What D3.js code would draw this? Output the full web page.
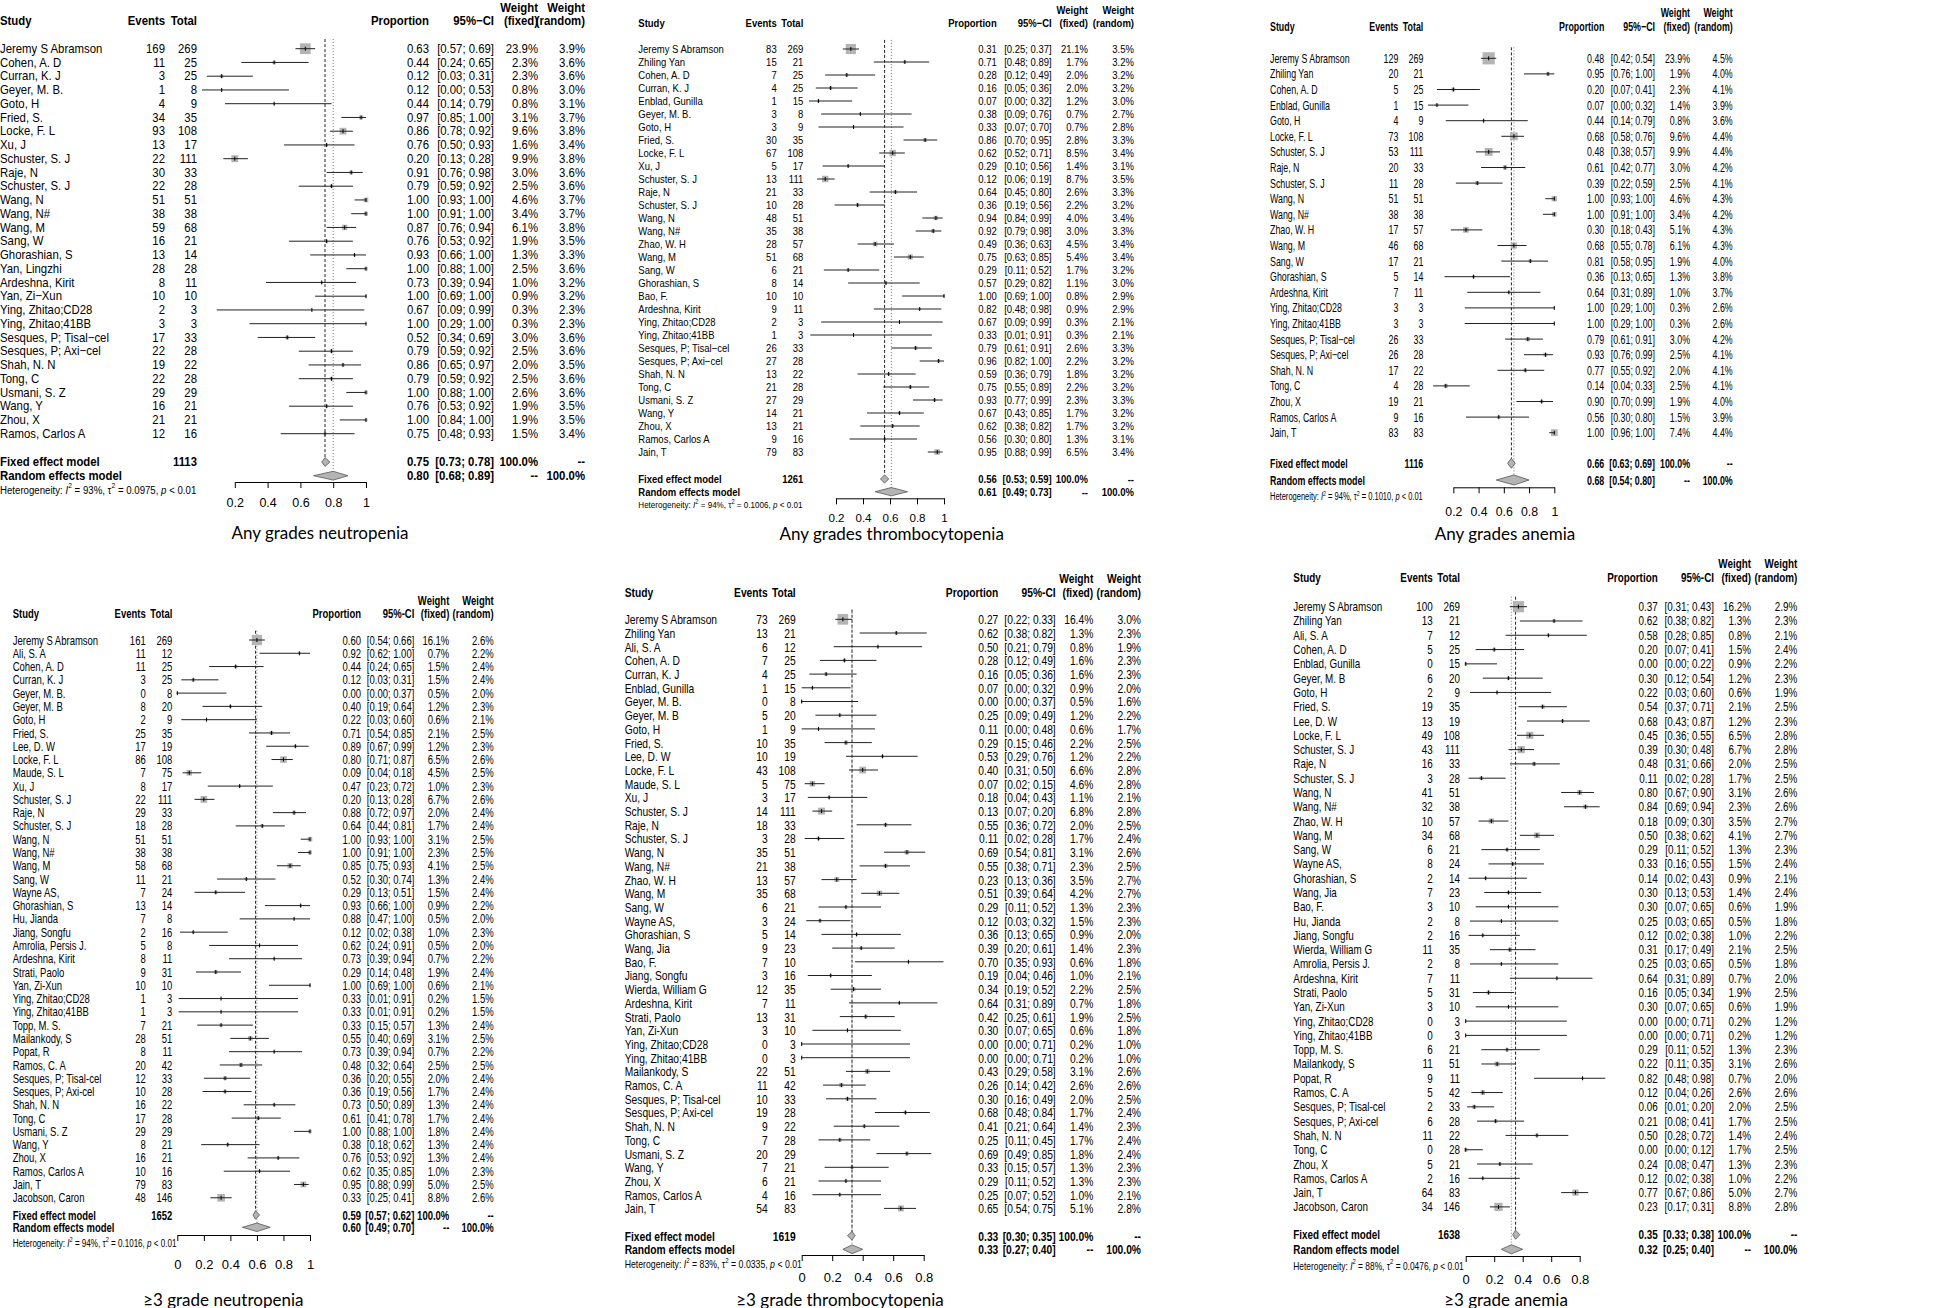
<!DOCTYPE html>
<html>
<head>
<meta charset="utf-8">
<script src="https://cdn.jsdelivr.net/npm/d3@7"></script>
<style>
  body { margin: 0; background: #fff; }
  svg { display: block; }
</style>
</head>
<body>
<div id="chart"></div>
<script>
// each row: study, events, total, proportion, lower, upper, weight fixed %, weight random %
const anyNeutropenia = [
  ["Jeremy S Abramson", 169, 269, 0.63, 0.57, 0.69, 23.9, 3.9],
  ["Cohen, A. D", 11, 25, 0.44, 0.24, 0.65, 2.3, 3.6],
  ["Curran, K. J", 3, 25, 0.12, 0.03, 0.31, 2.3, 3.6],
  ["Geyer, M. B.", 1, 8, 0.12, 0.00, 0.53, 0.8, 3.0],
  ["Goto, H", 4, 9, 0.44, 0.14, 0.79, 0.8, 3.1],
  ["Fried, S.", 34, 35, 0.97, 0.85, 1.00, 3.1, 3.7],
  ["Locke, F. L", 93, 108, 0.86, 0.78, 0.92, 9.6, 3.8],
  ["Xu, J", 13, 17, 0.76, 0.50, 0.93, 1.6, 3.4],
  ["Schuster, S. J", 22, 111, 0.20, 0.13, 0.28, 9.9, 3.8],
  ["Raje, N", 30, 33, 0.91, 0.76, 0.98, 3.0, 3.6],
  ["Schuster, S. J", 22, 28, 0.79, 0.59, 0.92, 2.5, 3.6],
  ["Wang, N", 51, 51, 1.00, 0.93, 1.00, 4.6, 3.7],
  ["Wang, N#", 38, 38, 1.00, 0.91, 1.00, 3.4, 3.7],
  ["Wang, M", 59, 68, 0.87, 0.76, 0.94, 6.1, 3.8],
  ["Sang, W", 16, 21, 0.76, 0.53, 0.92, 1.9, 3.5],
  ["Ghorashian, S", 13, 14, 0.93, 0.66, 1.00, 1.3, 3.3],
  ["Yan, Lingzhi", 28, 28, 1.00, 0.88, 1.00, 2.5, 3.6],
  ["Ardeshna, Kirit", 8, 11, 0.73, 0.39, 0.94, 1.0, 3.2],
  ["Yan, Zi\u2212Xun", 10, 10, 1.00, 0.69, 1.00, 0.9, 3.2],
  ["Ying, Zhitao;CD28", 2, 3, 0.67, 0.09, 0.99, 0.3, 2.3],
  ["Ying, Zhitao;41BB", 3, 3, 1.00, 0.29, 1.00, 0.3, 2.3],
  ["Sesques, P; Tisal\u2212cel", 17, 33, 0.52, 0.34, 0.69, 3.0, 3.6],
  ["Sesques, P; Axi\u2212cel", 22, 28, 0.79, 0.59, 0.92, 2.5, 3.6],
  ["Shah, N. N", 19, 22, 0.86, 0.65, 0.97, 2.0, 3.5],
  ["Tong, C", 22, 28, 0.79, 0.59, 0.92, 2.5, 3.6],
  ["Usmani, S. Z", 29, 29, 1.00, 0.88, 1.00, 2.6, 3.6],
  ["Wang, Y", 16, 21, 0.76, 0.53, 0.92, 1.9, 3.5],
  ["Zhou, X", 21, 21, 1.00, 0.84, 1.00, 1.9, 3.5],
  ["Ramos, Carlos A", 12, 16, 0.75, 0.48, 0.93, 1.5, 3.4]
];
const anyNeutropeniaPooled = { total: 1113, fixed: [0.75, 0.73, 0.78], random: [0.80, 0.68, 0.89], i2: "93%", tau2: "0.0975" };

const anyThrombocytopenia = [
  ["Jeremy S Abramson", 83, 269, 0.31, 0.25, 0.37, 21.1, 3.5],
  ["Zhiling Yan", 15, 21, 0.71, 0.48, 0.89, 1.7, 3.2],
  ["Cohen, A. D", 7, 25, 0.28, 0.12, 0.49, 2.0, 3.2],
  ["Curran, K. J", 4, 25, 0.16, 0.05, 0.36, 2.0, 3.2],
  ["Enblad, Gunilla", 1, 15, 0.07, 0.00, 0.32, 1.2, 3.0],
  ["Geyer, M. B.", 3, 8, 0.38, 0.09, 0.76, 0.7, 2.7],
  ["Goto, H", 3, 9, 0.33, 0.07, 0.70, 0.7, 2.8],
  ["Fried, S.", 30, 35, 0.86, 0.70, 0.95, 2.8, 3.3],
  ["Locke, F. L", 67, 108, 0.62, 0.52, 0.71, 8.5, 3.4],
  ["Xu, J", 5, 17, 0.29, 0.10, 0.56, 1.4, 3.1],
  ["Schuster, S. J", 13, 111, 0.12, 0.06, 0.19, 8.7, 3.5],
  ["Raje, N", 21, 33, 0.64, 0.45, 0.80, 2.6, 3.3],
  ["Schuster, S. J", 10, 28, 0.36, 0.19, 0.56, 2.2, 3.2],
  ["Wang, N", 48, 51, 0.94, 0.84, 0.99, 4.0, 3.4],
  ["Wang, N#", 35, 38, 0.92, 0.79, 0.98, 3.0, 3.3],
  ["Zhao, W. H", 28, 57, 0.49, 0.36, 0.63, 4.5, 3.4],
  ["Wang, M", 51, 68, 0.75, 0.63, 0.85, 5.4, 3.4],
  ["Sang, W", 6, 21, 0.29, 0.11, 0.52, 1.7, 3.2],
  ["Ghorashian, S", 8, 14, 0.57, 0.29, 0.82, 1.1, 3.0],
  ["Bao, F.", 10, 10, 1.00, 0.69, 1.00, 0.8, 2.9],
  ["Ardeshna, Kirit", 9, 11, 0.82, 0.48, 0.98, 0.9, 2.9],
  ["Ying, Zhitao;CD28", 2, 3, 0.67, 0.09, 0.99, 0.3, 2.1],
  ["Ying, Zhitao;41BB", 1, 3, 0.33, 0.01, 0.91, 0.3, 2.1],
  ["Sesques, P; Tisal\u2212cel", 26, 33, 0.79, 0.61, 0.91, 2.6, 3.3],
  ["Sesques, P; Axi\u2212cel", 27, 28, 0.96, 0.82, 1.00, 2.2, 3.2],
  ["Shah, N. N", 13, 22, 0.59, 0.36, 0.79, 1.8, 3.2],
  ["Tong, C", 21, 28, 0.75, 0.55, 0.89, 2.2, 3.2],
  ["Usmani, S. Z", 27, 29, 0.93, 0.77, 0.99, 2.3, 3.3],
  ["Wang, Y", 14, 21, 0.67, 0.43, 0.85, 1.7, 3.2],
  ["Zhou, X", 13, 21, 0.62, 0.38, 0.82, 1.7, 3.2],
  ["Ramos, Carlos A", 9, 16, 0.56, 0.30, 0.80, 1.3, 3.1],
  ["Jain, T", 79, 83, 0.95, 0.88, 0.99, 6.5, 3.4]
];
const anyThrombocytopeniaPooled = { total: 1261, fixed: [0.56, 0.53, 0.59], random: [0.61, 0.49, 0.73], i2: "94%", tau2: "0.1006" };

const anyAnemia = [
  ["Jeremy S Abramson", 129, 269, 0.48, 0.42, 0.54, 23.9, 4.5],
  ["Zhiling Yan", 20, 21, 0.95, 0.76, 1.00, 1.9, 4.0],
  ["Cohen, A. D", 5, 25, 0.20, 0.07, 0.41, 2.3, 4.1],
  ["Enblad, Gunilla", 1, 15, 0.07, 0.00, 0.32, 1.4, 3.9],
  ["Goto, H", 4, 9, 0.44, 0.14, 0.79, 0.8, 3.6],
  ["Locke, F. L", 73, 108, 0.68, 0.58, 0.76, 9.6, 4.4],
  ["Schuster, S. J", 53, 111, 0.48, 0.38, 0.57, 9.9, 4.4],
  ["Raje, N", 20, 33, 0.61, 0.42, 0.77, 3.0, 4.2],
  ["Schuster, S. J", 11, 28, 0.39, 0.22, 0.59, 2.5, 4.1],
  ["Wang, N", 51, 51, 1.00, 0.93, 1.00, 4.6, 4.3],
  ["Wang, N#", 38, 38, 1.00, 0.91, 1.00, 3.4, 4.2],
  ["Zhao, W. H", 17, 57, 0.30, 0.18, 0.43, 5.1, 4.3],
  ["Wang, M", 46, 68, 0.68, 0.55, 0.78, 6.1, 4.3],
  ["Sang, W", 17, 21, 0.81, 0.58, 0.95, 1.9, 4.0],
  ["Ghorashian, S", 5, 14, 0.36, 0.13, 0.65, 1.3, 3.8],
  ["Ardeshna, Kirit", 7, 11, 0.64, 0.31, 0.89, 1.0, 3.7],
  ["Ying, Zhitao;CD28", 3, 3, 1.00, 0.29, 1.00, 0.3, 2.6],
  ["Ying, Zhitao;41BB", 3, 3, 1.00, 0.29, 1.00, 0.3, 2.6],
  ["Sesques, P; Tisal\u2212cel", 26, 33, 0.79, 0.61, 0.91, 3.0, 4.2],
  ["Sesques, P; Axi\u2212cel", 26, 28, 0.93, 0.76, 0.99, 2.5, 4.1],
  ["Shah, N. N", 17, 22, 0.77, 0.55, 0.92, 2.0, 4.1],
  ["Tong, C", 4, 28, 0.14, 0.04, 0.33, 2.5, 4.1],
  ["Zhou, X", 19, 21, 0.90, 0.70, 0.99, 1.9, 4.0],
  ["Ramos, Carlos A", 9, 16, 0.56, 0.30, 0.80, 1.5, 3.9],
  ["Jain, T", 83, 83, 1.00, 0.96, 1.00, 7.4, 4.4]
];
const anyAnemiaPooled = { total: 1116, fixed: [0.66, 0.63, 0.69], random: [0.68, 0.54, 0.80], i2: "94%", tau2: "0.1010" };

const g3Neutropenia = [
  ["Jeremy S Abramson", 161, 269, 0.60, 0.54, 0.66, 16.1, 2.6],
  ["Ali, S. A", 11, 12, 0.92, 0.62, 1.00, 0.7, 2.2],
  ["Cohen, A. D", 11, 25, 0.44, 0.24, 0.65, 1.5, 2.4],
  ["Curran, K. J", 3, 25, 0.12, 0.03, 0.31, 1.5, 2.4],
  ["Geyer, M. B.", 0, 8, 0.00, 0.00, 0.37, 0.5, 2.0],
  ["Geyer, M. B", 8, 20, 0.40, 0.19, 0.64, 1.2, 2.3],
  ["Goto, H", 2, 9, 0.22, 0.03, 0.60, 0.6, 2.1],
  ["Fried, S.", 25, 35, 0.71, 0.54, 0.85, 2.1, 2.5],
  ["Lee, D. W", 17, 19, 0.89, 0.67, 0.99, 1.2, 2.3],
  ["Locke, F. L", 86, 108, 0.80, 0.71, 0.87, 6.5, 2.6],
  ["Maude, S. L", 7, 75, 0.09, 0.04, 0.18, 4.5, 2.5],
  ["Xu, J", 8, 17, 0.47, 0.23, 0.72, 1.0, 2.3],
  ["Schuster, S. J", 22, 111, 0.20, 0.13, 0.28, 6.7, 2.6],
  ["Raje, N", 29, 33, 0.88, 0.72, 0.97, 2.0, 2.4],
  ["Schuster, S. J", 18, 28, 0.64, 0.44, 0.81, 1.7, 2.4],
  ["Wang, N", 51, 51, 1.00, 0.93, 1.00, 3.1, 2.5],
  ["Wang, N#", 38, 38, 1.00, 0.91, 1.00, 2.3, 2.5],
  ["Wang, M", 58, 68, 0.85, 0.75, 0.93, 4.1, 2.5],
  ["Sang, W", 11, 21, 0.52, 0.30, 0.74, 1.3, 2.4],
  ["Wayne AS,", 7, 24, 0.29, 0.13, 0.51, 1.5, 2.4],
  ["Ghorashian, S", 13, 14, 0.93, 0.66, 1.00, 0.9, 2.2],
  ["Hu, Jianda", 7, 8, 0.88, 0.47, 1.00, 0.5, 2.0],
  ["Jiang, Songfu", 2, 16, 0.12, 0.02, 0.38, 1.0, 2.3],
  ["Amrolia, Persis J.", 5, 8, 0.62, 0.24, 0.91, 0.5, 2.0],
  ["Ardeshna, Kirit", 8, 11, 0.73, 0.39, 0.94, 0.7, 2.2],
  ["Strati, Paolo", 9, 31, 0.29, 0.14, 0.48, 1.9, 2.4],
  ["Yan, Zi-Xun", 10, 10, 1.00, 0.69, 1.00, 0.6, 2.1],
  ["Ying, Zhitao;CD28", 1, 3, 0.33, 0.01, 0.91, 0.2, 1.5],
  ["Ying, Zhitao;41BB", 1, 3, 0.33, 0.01, 0.91, 0.2, 1.5],
  ["Topp, M. S.", 7, 21, 0.33, 0.15, 0.57, 1.3, 2.4],
  ["Mailankody, S", 28, 51, 0.55, 0.40, 0.69, 3.1, 2.5],
  ["Popat, R", 8, 11, 0.73, 0.39, 0.94, 0.7, 2.2],
  ["Ramos, C. A", 20, 42, 0.48, 0.32, 0.64, 2.5, 2.5],
  ["Sesques, P; Tisal-cel", 12, 33, 0.36, 0.20, 0.55, 2.0, 2.4],
  ["Sesques, P; Axi-cel", 10, 28, 0.36, 0.19, 0.56, 1.7, 2.4],
  ["Shah, N. N", 16, 22, 0.73, 0.50, 0.89, 1.3, 2.4],
  ["Tong, C", 17, 28, 0.61, 0.41, 0.78, 1.7, 2.4],
  ["Usmani, S. Z", 29, 29, 1.00, 0.88, 1.00, 1.8, 2.4],
  ["Wang, Y", 8, 21, 0.38, 0.18, 0.62, 1.3, 2.4],
  ["Zhou, X", 16, 21, 0.76, 0.53, 0.92, 1.3, 2.4],
  ["Ramos, Carlos A", 10, 16, 0.62, 0.35, 0.85, 1.0, 2.3],
  ["Jain, T", 79, 83, 0.95, 0.88, 0.99, 5.0, 2.5],
  ["Jacobson, Caron", 48, 146, 0.33, 0.25, 0.41, 8.8, 2.6]
];
const g3NeutropeniaPooled = { total: 1652, fixed: [0.59, 0.57, 0.62], random: [0.60, 0.49, 0.70], i2: "94%", tau2: "0.1016" };

const g3Thrombocytopenia = [
  ["Jeremy S Abramson", 73, 269, 0.27, 0.22, 0.33, 16.4, 3.0],
  ["Zhiling Yan", 13, 21, 0.62, 0.38, 0.82, 1.3, 2.3],
  ["Ali, S. A", 6, 12, 0.50, 0.21, 0.79, 0.8, 1.9],
  ["Cohen, A. D", 7, 25, 0.28, 0.12, 0.49, 1.6, 2.3],
  ["Curran, K. J", 4, 25, 0.16, 0.05, 0.36, 1.6, 2.3],
  ["Enblad, Gunilla", 1, 15, 0.07, 0.00, 0.32, 0.9, 2.0],
  ["Geyer, M. B.", 0, 8, 0.00, 0.00, 0.37, 0.5, 1.6],
  ["Geyer, M. B", 5, 20, 0.25, 0.09, 0.49, 1.2, 2.2],
  ["Goto, H", 1, 9, 0.11, 0.00, 0.48, 0.6, 1.7],
  ["Fried, S.", 10, 35, 0.29, 0.15, 0.46, 2.2, 2.5],
  ["Lee, D. W", 10, 19, 0.53, 0.29, 0.76, 1.2, 2.2],
  ["Locke, F. L", 43, 108, 0.40, 0.31, 0.50, 6.6, 2.8],
  ["Maude, S. L", 5, 75, 0.07, 0.02, 0.15, 4.6, 2.8],
  ["Xu, J", 3, 17, 0.18, 0.04, 0.43, 1.1, 2.1],
  ["Schuster, S. J", 14, 111, 0.13, 0.07, 0.20, 6.8, 2.8],
  ["Raje, N", 18, 33, 0.55, 0.36, 0.72, 2.0, 2.5],
  ["Schuster, S. J", 3, 28, 0.11, 0.02, 0.28, 1.7, 2.4],
  ["Wang, N", 35, 51, 0.69, 0.54, 0.81, 3.1, 2.6],
  ["Wang, N#", 21, 38, 0.55, 0.38, 0.71, 2.3, 2.5],
  ["Zhao, W. H", 13, 57, 0.23, 0.13, 0.36, 3.5, 2.7],
  ["Wang, M", 35, 68, 0.51, 0.39, 0.64, 4.2, 2.7],
  ["Sang, W", 6, 21, 0.29, 0.11, 0.52, 1.3, 2.3],
  ["Wayne AS,", 3, 24, 0.12, 0.03, 0.32, 1.5, 2.3],
  ["Ghorashian, S", 5, 14, 0.36, 0.13, 0.65, 0.9, 2.0],
  ["Wang, Jia", 9, 23, 0.39, 0.20, 0.61, 1.4, 2.3],
  ["Bao, F.", 7, 10, 0.70, 0.35, 0.93, 0.6, 1.8],
  ["Jiang, Songfu", 3, 16, 0.19, 0.04, 0.46, 1.0, 2.1],
  ["Wierda, William G", 12, 35, 0.34, 0.19, 0.52, 2.2, 2.5],
  ["Ardeshna, Kirit", 7, 11, 0.64, 0.31, 0.89, 0.7, 1.8],
  ["Strati, Paolo", 13, 31, 0.42, 0.25, 0.61, 1.9, 2.5],
  ["Yan, Zi-Xun", 3, 10, 0.30, 0.07, 0.65, 0.6, 1.8],
  ["Ying, Zhitao;CD28", 0, 3, 0.00, 0.00, 0.71, 0.2, 1.0],
  ["Ying, Zhitao;41BB", 0, 3, 0.00, 0.00, 0.71, 0.2, 1.0],
  ["Mailankody, S", 22, 51, 0.43, 0.29, 0.58, 3.1, 2.6],
  ["Ramos, C. A", 11, 42, 0.26, 0.14, 0.42, 2.6, 2.6],
  ["Sesques, P; Tisal-cel", 10, 33, 0.30, 0.16, 0.49, 2.0, 2.5],
  ["Sesques, P; Axi-cel", 19, 28, 0.68, 0.48, 0.84, 1.7, 2.4],
  ["Shah, N. N", 9, 22, 0.41, 0.21, 0.64, 1.4, 2.3],
  ["Tong, C", 7, 28, 0.25, 0.11, 0.45, 1.7, 2.4],
  ["Usmani, S. Z", 20, 29, 0.69, 0.49, 0.85, 1.8, 2.4],
  ["Wang, Y", 7, 21, 0.33, 0.15, 0.57, 1.3, 2.3],
  ["Zhou, X", 6, 21, 0.29, 0.11, 0.52, 1.3, 2.3],
  ["Ramos, Carlos A", 4, 16, 0.25, 0.07, 0.52, 1.0, 2.1],
  ["Jain, T", 54, 83, 0.65, 0.54, 0.75, 5.1, 2.8]
];
const g3ThrombocytopeniaPooled = { total: 1619, fixed: [0.33, 0.30, 0.35], random: [0.33, 0.27, 0.40], i2: "83%", tau2: "0.0335" };

const g3Anemia = [
  ["Jeremy S Abramson", 100, 269, 0.37, 0.31, 0.43, 16.2, 2.9],
  ["Zhiling Yan", 13, 21, 0.62, 0.38, 0.82, 1.3, 2.3],
  ["Ali, S. A", 7, 12, 0.58, 0.28, 0.85, 0.8, 2.1],
  ["Cohen, A. D", 5, 25, 0.20, 0.07, 0.41, 1.5, 2.4],
  ["Enblad, Gunilla", 0, 15, 0.00, 0.00, 0.22, 0.9, 2.2],
  ["Geyer, M. B", 6, 20, 0.30, 0.12, 0.54, 1.2, 2.3],
  ["Goto, H", 2, 9, 0.22, 0.03, 0.60, 0.6, 1.9],
  ["Fried, S.", 19, 35, 0.54, 0.37, 0.71, 2.1, 2.5],
  ["Lee, D. W", 13, 19, 0.68, 0.43, 0.87, 1.2, 2.3],
  ["Locke, F. L", 49, 108, 0.45, 0.36, 0.55, 6.5, 2.8],
  ["Schuster, S. J", 43, 111, 0.39, 0.30, 0.48, 6.7, 2.8],
  ["Raje, N", 16, 33, 0.48, 0.31, 0.66, 2.0, 2.5],
  ["Schuster, S. J", 3, 28, 0.11, 0.02, 0.28, 1.7, 2.5],
  ["Wang, N", 41, 51, 0.80, 0.67, 0.90, 3.1, 2.6],
  ["Wang, N#", 32, 38, 0.84, 0.69, 0.94, 2.3, 2.6],
  ["Zhao, W. H", 10, 57, 0.18, 0.09, 0.30, 3.5, 2.7],
  ["Wang, M", 34, 68, 0.50, 0.38, 0.62, 4.1, 2.7],
  ["Sang, W", 6, 21, 0.29, 0.11, 0.52, 1.3, 2.3],
  ["Wayne AS,", 8, 24, 0.33, 0.16, 0.55, 1.5, 2.4],
  ["Ghorashian, S", 2, 14, 0.14, 0.02, 0.43, 0.9, 2.1],
  ["Wang, Jia", 7, 23, 0.30, 0.13, 0.53, 1.4, 2.4],
  ["Bao, F.", 3, 10, 0.30, 0.07, 0.65, 0.6, 1.9],
  ["Hu, Jianda", 2, 8, 0.25, 0.03, 0.65, 0.5, 1.8],
  ["Jiang, Songfu", 2, 16, 0.12, 0.02, 0.38, 1.0, 2.2],
  ["Wierda, William G", 11, 35, 0.31, 0.17, 0.49, 2.1, 2.5],
  ["Amrolia, Persis J.", 2, 8, 0.25, 0.03, 0.65, 0.5, 1.8],
  ["Ardeshna, Kirit", 7, 11, 0.64, 0.31, 0.89, 0.7, 2.0],
  ["Strati, Paolo", 5, 31, 0.16, 0.05, 0.34, 1.9, 2.5],
  ["Yan, Zi-Xun", 3, 10, 0.30, 0.07, 0.65, 0.6, 1.9],
  ["Ying, Zhitao;CD28", 0, 3, 0.00, 0.00, 0.71, 0.2, 1.2],
  ["Ying, Zhitao;41BB", 0, 3, 0.00, 0.00, 0.71, 0.2, 1.2],
  ["Topp, M. S.", 6, 21, 0.29, 0.11, 0.52, 1.3, 2.3],
  ["Mailankody, S", 11, 51, 0.22, 0.11, 0.35, 3.1, 2.6],
  ["Popat, R", 9, 11, 0.82, 0.48, 0.98, 0.7, 2.0],
  ["Ramos, C. A", 5, 42, 0.12, 0.04, 0.26, 2.6, 2.6],
  ["Sesques, P; Tisal-cel", 2, 33, 0.06, 0.01, 0.20, 2.0, 2.5],
  ["Sesques, P; Axi-cel", 6, 28, 0.21, 0.08, 0.41, 1.7, 2.5],
  ["Shah, N. N", 11, 22, 0.50, 0.28, 0.72, 1.4, 2.4],
  ["Tong, C", 0, 28, 0.00, 0.00, 0.12, 1.7, 2.5],
  ["Zhou, X", 5, 21, 0.24, 0.08, 0.47, 1.3, 2.3],
  ["Ramos, Carlos A", 2, 16, 0.12, 0.02, 0.38, 1.0, 2.2],
  ["Jain, T", 64, 83, 0.77, 0.67, 0.86, 5.0, 2.7],
  ["Jacobson, Caron", 34, 146, 0.23, 0.17, 0.31, 8.8, 2.8]
];
const g3AnemiaPooled = { total: 1638, fixed: [0.35, 0.33, 0.38], random: [0.32, 0.25, 0.40], i2: "88%", tau2: "0.0476" };

const ticksTop = [0.2, 0.4, 0.6, 0.8, 1];
const ticksFull = [0, 0.2, 0.4, 0.6, 0.8, 1];
const ticksShort = [0, 0.2, 0.4, 0.6, 0.8];

// layout for each forest plot (pixel positions)
const panels = [
  { rows: anyNeutropenia, pooled: anyNeutropeniaPooled, title: "Any grades neutropenia", ticks: ticksTop, minus: "\u2212",
    fs: 12.5, sx: 0.91, studyX: 0, eventsX: 165, totalX: 197, propX: 429, ciX: 494, wfX: 538, wrX: 585,
    weightY: 8, headY: 21, firstY: 48.7, rowH: 13.75, fixedY: 462, randomY: 475.7, hetY: 490,
    axisY: 482, tickLabelY: 503, x0: 202, x1: 366, titleX: 320, titleY: 532 },
  { rows: anyThrombocytopenia, pooled: anyThrombocytopeniaPooled, title: "Any grades thrombocytopenia", ticks: ticksTop, minus: "\u2212",
    fs: 11.6, sx: 0.82, studyX: 638.3, eventsX: 776.7, totalX: 803.3, propX: 996.7, ciX: 1051.7, wfX: 1088, wrX: 1134,
    weightY: 10, headY: 23, firstY: 49, rowH: 13.0, fixedY: 479, randomY: 491.7, hetY: 505,
    axisY: 498.3, tickLabelY: 518, x0: 809, x1: 944, titleX: 891.7, titleY: 533 },
  { rows: anyAnemia, pooled: anyAnemiaPooled, title: "Any grades anemia", ticks: ticksTop, minus: "\u2212",
    fs: 12.3, sx: 0.72, studyX: 1270, eventsX: 1398.3, totalX: 1423.3, propX: 1604.3, ciX: 1655, wfX: 1690, wrX: 1732.7,
    weightY: 12.3, headY: 26.7, firstY: 58.3, rowH: 15.6, fixedY: 463.3, randomY: 480, hetY: 496.7,
    axisY: 487.3, tickLabelY: 511.7, x0: 1428.1, x1: 1554.3, titleX: 1505, titleY: 533 },
  { rows: g3Neutropenia, pooled: g3NeutropeniaPooled, title: "\u22653 grade neutropenia", ticks: ticksFull, minus: "-",
    fs: 13, sx: 0.73, studyX: 12.7, eventsX: 145.7, totalX: 172.3, propX: 361, ciX: 414.3, wfX: 449.3, wrX: 493.7,
    weightY: 600.3, headY: 613.7, firstY: 640, rowH: 13.28, fixedY: 1215, randomY: 1227.3, hetY: 1242.7,
    axisY: 1235, tickLabelY: 1264, x0: 177.3, x1: 310, titleX: 223.3, titleY: 1299 },
  { rows: g3Thrombocytopenia, pooled: g3ThrombocytopeniaPooled, title: "\u22653 grade thrombocytopenia", ticks: ticksShort, minus: "-",
    fs: 13, sx: 0.79, studyX: 624.7, eventsX: 767.7, totalX: 795.7, propX: 998.3, ciX: 1055.7, wfX: 1093.3, wrX: 1141,
    weightY: 577.7, headY: 592, firstY: 619.3, rowH: 13.7, fixedY: 1235.7, randomY: 1249.3, hetY: 1264,
    axisY: 1255, tickLabelY: 1277.7, x0: 801.7, x1: 954.2, titleX: 840, titleY: 1299 },
  { rows: g3Anemia, pooled: g3AnemiaPooled, title: "\u22653 grade anemia", ticks: ticksShort, minus: "-",
    fs: 13, sx: 0.76, studyX: 1293.3, eventsX: 1432.7, totalX: 1460, propX: 1657.7, ciX: 1714, wfX: 1751, wrX: 1797.3,
    weightY: 563, headY: 577.7, firstY: 606.7, rowH: 14.29, fixedY: 1234.7, randomY: 1249.3, hetY: 1265,
    axisY: 1256, tickLabelY: 1279, x0: 1465.7, x1: 1608.2, titleX: 1506, titleY: 1299 }
];

const width = 1952, height = 1308;
const f2 = d3.format(".2f");
const pct = v => v.toFixed(1) + "%";
const ci = (lo, hi) => `[${f2(lo)}; ${f2(hi)}]`;

const svg = d3.select("#chart").append("svg")
  .attr("width", width)
  .attr("height", height)
  .style("background", "#fff");

panels.forEach(drawForest);

function drawForest(p) {
  const g = svg.append("g").attr("font-family", "'Liberation Sans', Arial, Helvetica, sans-serif");
  const x = d3.scaleLinear().domain([0, 1]).range([p.x0, p.x1]);
  const y = i => p.firstY + i * p.rowH;
  const maxW = d3.max(p.rows, d => d[6]);
  const side = d3.scaleSqrt().domain([0, maxW]).range([0, p.rowH * 0.78]);

  function txt(str, tx, ty, anchor, opts = {}) {
    return g.append("text")
      .attr("transform", `translate(${tx},${ty}) scale(${p.sx},1)`)
      .attr("text-anchor", anchor)
      .attr("dominant-baseline", "central")
      .attr("font-size", opts.size || p.fs)
      .attr("font-weight", opts.bold ? "bold" : null)
      .attr("fill", "#000")
      .text(str);
  }

  // headers
  txt("Study", p.studyX, p.headY, "start", { bold: true });
  txt("Events", p.eventsX, p.headY, "end", { bold: true });
  txt("Total", p.totalX, p.headY, "end", { bold: true });
  txt("Proportion", p.propX, p.headY, "end", { bold: true });
  txt("95%" + p.minus + "CI", p.ciX, p.headY, "end", { bold: true });
  txt("Weight", p.wfX, p.weightY, "end", { bold: true });
  txt("(fixed)", p.wfX, p.headY, "end", { bold: true });
  txt("Weight", p.wrX, p.weightY, "end", { bold: true });
  txt("(random)", p.wrX, p.headY, "end", { bold: true });

  // reference lines
  const topY = p.firstY - p.rowH * 0.7;
  g.append("line")
    .attr("x1", x(p.pooled.fixed[0])).attr("x2", x(p.pooled.fixed[0]))
    .attr("y1", topY).attr("y2", p.fixedY)
    .attr("stroke", "#222").attr("stroke-width", 1).attr("stroke-dasharray", "3,2");
  g.append("line")
    .attr("x1", x(p.pooled.random[0])).attr("x2", x(p.pooled.random[0]))
    .attr("y1", topY).attr("y2", p.randomY)
    .attr("stroke", "#777").attr("stroke-width", 1).attr("stroke-dasharray", "1,2");

  // study rows
  p.rows.forEach((d, i) => {
    const yy = y(i);
    txt(d[0], p.studyX, yy, "start");
    txt(String(d[1]), p.eventsX, yy, "end");
    txt(String(d[2]), p.totalX, yy, "end");
    txt(f2(d[3]), p.propX, yy, "end");
    txt(ci(d[4], d[5]), p.ciX, yy, "end");
    txt(pct(d[6]), p.wfX, yy, "end");
    txt(pct(d[7]), p.wrX, yy, "end");

    const s = side(d[6]);
    g.append("rect")
      .attr("x", x(d[3]) - s / 2).attr("y", yy - s / 2)
      .attr("width", s).attr("height", s)
      .attr("fill", "#b4b4b4");
    g.append("line")
      .attr("x1", x(d[4])).attr("x2", x(d[5]))
      .attr("y1", yy).attr("y2", yy)
      .attr("stroke", "#222").attr("stroke-width", 1);
    g.append("line")
      .attr("x1", x(d[3])).attr("x2", x(d[3]))
      .attr("y1", yy - 2).attr("y2", yy + 2)
      .attr("stroke", "#000").attr("stroke-width", 1);
  });

  // pooled rows
  const dh = p.rowH * 0.32;
  const diamond = (v, yy) => {
    const pts = [[x(v[1]), yy], [x(v[0]), yy - dh], [x(v[2]), yy], [x(v[0]), yy + dh]];
    g.append("path")
      .attr("d", d3.line()(pts) + "Z")
      .attr("fill", "#b4b4b4")
      .attr("stroke", "#555")
      .attr("stroke-width", 0.8);
  };
  diamond(p.pooled.fixed, p.fixedY);
  diamond(p.pooled.random, p.randomY);

  txt("Fixed effect model", p.studyX, p.fixedY, "start", { bold: true });
  txt(String(p.pooled.total), p.totalX, p.fixedY, "end", { bold: true });
  txt(f2(p.pooled.fixed[0]), p.propX, p.fixedY, "end", { bold: true });
  txt(ci(p.pooled.fixed[1], p.pooled.fixed[2]), p.ciX, p.fixedY, "end", { bold: true });
  txt("100.0%", p.wfX, p.fixedY, "end", { bold: true });
  txt("--", p.wrX, p.fixedY, "end", { bold: true });

  txt("Random effects model", p.studyX, p.randomY, "start", { bold: true });
  txt(f2(p.pooled.random[0]), p.propX, p.randomY, "end", { bold: true });
  txt(ci(p.pooled.random[1], p.pooled.random[2]), p.ciX, p.randomY, "end", { bold: true });
  txt("--", p.wfX, p.randomY, "end", { bold: true });
  txt("100.0%", p.wrX, p.randomY, "end", { bold: true });

  // heterogeneity
  const hs = p.fs * 0.85;
  const het = txt("", p.studyX, p.hetY, "start", { size: hs });
  het.append("tspan").text("Heterogeneity: ");
  het.append("tspan").attr("font-style", "italic").text("I");
  het.append("tspan").attr("font-size", hs * 0.7).attr("dy", -hs * 0.4).text("2");
  het.append("tspan").attr("dy", hs * 0.4).text(` = ${p.pooled.i2}, \u03c4`);
  het.append("tspan").attr("font-size", hs * 0.7).attr("dy", -hs * 0.4).text("2");
  het.append("tspan").attr("dy", hs * 0.4).text(` = ${p.pooled.tau2}, `);
  het.append("tspan").attr("font-style", "italic").text("p");
  het.append("tspan").text(" < 0.01");

  // axis
  const ext = d3.extent(p.ticks);
  const ax = d3.scaleLinear().domain(ext).range(ext.map(x));
  const tickSize = 6;
  const axisG = g.append("g")
    .attr("transform", `translate(0,${p.axisY})`)
    .call(d3.axisBottom(ax)
      .tickValues(p.ticks)
      .tickSize(tickSize)
      .tickSizeOuter(0)
      .tickPadding(p.tickLabelY - p.axisY - tickSize - p.fs * 0.36)
      .tickFormat(d3.format("~g")));
  axisG.attr("font-family", null).attr("font-size", null);
  axisG.selectAll("path, line").attr("stroke", "#000");
  axisG.selectAll("text")
    .attr("font-size", p.fs)
    .attr("fill", "#000")
    .attr("font-family", "'Liberation Sans', Arial, sans-serif");

  // panel caption
  svg.append("text")
    .attr("x", p.titleX).attr("y", p.titleY)
    .attr("text-anchor", "middle")
    .attr("dominant-baseline", "central")
    .attr("font-family", "Lato, 'Open Sans', 'DejaVu Sans', sans-serif")
    .attr("font-size", 17)
    .attr("fill", "#000")
    .text(p.title);
}
</script>
</body>
</html>
